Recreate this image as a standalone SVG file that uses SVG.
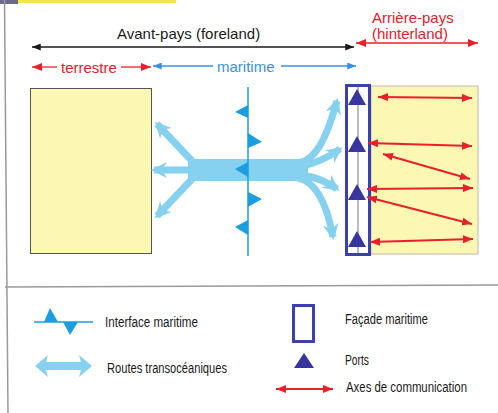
<svg xmlns="http://www.w3.org/2000/svg" width="498" height="413" viewBox="0 0 498 413">
<defs>
<style>
.t{font-family:"Liberation Sans",Arial,sans-serif}
.lg{font-size:14px;fill:#1a1a1a}
.hd{font-size:15px}
.red{stroke:#e8202a;stroke-width:2;fill:none}
.route{stroke:#86d0f0;stroke-width:7;fill:none}
.yel{fill:#fcf8b3}
.port{fill:#38359f}
.iface{fill:#1a9ee0}
</style>
<marker id="mk" viewBox="0 0 10 8" refX="10" refY="4" markerWidth="9" markerHeight="7" markerUnits="userSpaceOnUse" orient="auto-start-reverse"><path d="M0,0 L10,4 L0,8 z" fill="#1a1a1a"/></marker>
<marker id="mr" viewBox="0 0 10 8" refX="10" refY="4" markerWidth="10" markerHeight="8" markerUnits="userSpaceOnUse" orient="auto-start-reverse"><path d="M0,0 L10,4 L0,8 z" fill="#e8202a"/></marker>
<marker id="mb" viewBox="0 0 10 8" refX="10" refY="4" markerWidth="9" markerHeight="7" markerUnits="userSpaceOnUse" orient="auto-start-reverse"><path d="M0,0 L10,4 L0,8 z" fill="#3a8fe0"/></marker>
<marker id="mw" viewBox="0 0 18 18" refX="13" refY="9" markerWidth="18" markerHeight="18" markerUnits="userSpaceOnUse" orient="auto"><path d="M0,1 L16,9 L0,17 L5,9 z" fill="#86d0f0"/></marker>
</defs>
<rect width="498" height="413" fill="#fff"/>
<rect x="0" y="0" width="18" height="4" fill="#6a6a8a"/>
<rect x="18" y="0" width="158" height="3" fill="#f3e64a"/>
<line x1="4.5" y1="0" x2="8" y2="413" stroke="#9a9a9a" stroke-width="1.5"/>
<line x1="5" y1="287" x2="498" y2="285" stroke="#9a9a9a" stroke-width="1.5"/>

<g id="headers">
<text class="t hd" x="117" y="39" fill="#1a1a1a">Avant-pays (foreland)</text>
<text class="t hd" x="372" y="23" fill="#e8202a" font-size="14.5">Arrière-pays</text>
<text class="t hd" x="372" y="39" fill="#e8202a">(hinterland)</text>
<text class="t hd" x="61" y="73" fill="#e8202a">terrestre</text>
<text class="t hd" x="217" y="72" fill="#3a8fe0">maritime</text>
</g>

<g id="connectors">
<line x1="32" y1="47" x2="354" y2="47" stroke="#1a1a1a" stroke-width="1.3" marker-start="url(#mk)" marker-end="url(#mk)"/>
<line x1="356" y1="43" x2="478" y2="43" stroke="#e8202a" stroke-width="1.3" marker-start="url(#mr)" marker-end="url(#mr)"/>
<line x1="57" y1="67" x2="32" y2="67" stroke="#e8202a" stroke-width="1.3" marker-end="url(#mr)"/>
<line x1="121" y1="67" x2="151" y2="67" stroke="#e8202a" stroke-width="1.3" marker-end="url(#mr)"/>
<line x1="213" y1="66" x2="153" y2="66" stroke="#3a8fe0" stroke-width="1.3" marker-end="url(#mb)"/>
<line x1="281" y1="66" x2="356" y2="66" stroke="#3a8fe0" stroke-width="1.3" marker-end="url(#mb)"/>
</g>

<g id="foreland">
<rect x="30.5" y="88.5" width="121" height="165" class="yel" stroke="#555" stroke-width="1"/>
</g>

<g id="hinterland">
<rect x="371" y="86" width="107" height="168" class="yel" stroke="#aaa" stroke-width="0.8"/>
</g>

<g id="routes">
<rect x="188" y="159" width="120" height="22" fill="#86d0f0"/>
<path class="route" d="M194,163 L157,124" marker-end="url(#mw)"/>
<path class="route" d="M194,170 L154,170" marker-end="url(#mw)"/>
<path class="route" d="M194,177 L157,216" marker-end="url(#mw)"/>
<path class="route" d="M298,163 C318,160 328,132 337,101" marker-end="url(#mw)"/>
<path class="route" d="M302,166 Q322,162 340,149" marker-end="url(#mw)"/>
<path class="route" d="M302,175 Q322,178 337,189" marker-end="url(#mw)"/>
<path class="route" d="M298,178 C318,182 328,210 333,237" marker-end="url(#mw)"/>
</g>

<g id="interface">
<line x1="248" y1="87" x2="248" y2="256" stroke="#1a9ee0" stroke-width="1.5"/>
<polygon class="iface" points="248,105 248,118 235,112"/>
<polygon class="iface" points="248,133 262,142 248,148"/>
<polygon class="iface" points="248,162 235,169 248,177"/>
<polygon class="iface" points="248,192 262,199 248,207"/>
<polygon class="iface" points="248,220 235,227 248,235"/>
</g>

<g id="facade">
<rect x="346.5" y="85.5" width="23" height="169" fill="#fff" stroke="#3b3fb0" stroke-width="3"/>
<line x1="358" y1="87" x2="358" y2="253" stroke="#555" stroke-width="0.8"/>
<polygon class="port" points="357,89 366,105 348,105"/>
<polygon class="port" points="357,136 366,152 348,152"/>
<polygon class="port" points="357,184 366,200 348,200"/>
<polygon class="port" points="357,231 366,247 348,247"/>
</g>

<g id="axes">
<line class="red" x1="378" y1="97" x2="472" y2="98" marker-start="url(#mr)" marker-end="url(#mr)"/>
<line class="red" x1="368" y1="143" x2="472" y2="146" marker-start="url(#mr)" marker-end="url(#mr)"/>
<line class="red" x1="383" y1="154" x2="470" y2="179" marker-start="url(#mr)" marker-end="url(#mr)"/>
<line class="red" x1="367" y1="189" x2="473" y2="188" marker-start="url(#mr)" marker-end="url(#mr)"/>
<line class="red" x1="367" y1="197" x2="472" y2="224" marker-start="url(#mr)" marker-end="url(#mr)"/>
<line class="red" x1="370" y1="242" x2="473" y2="239" marker-start="url(#mr)" marker-end="url(#mr)"/>
</g>

<g id="legend">
<line x1="34" y1="322" x2="93" y2="322" stroke="#1a9ee0" stroke-width="1.5"/>
<polygon class="iface" points="44,322 50,308 58,322"/>
<polygon class="iface" points="63,322 70,335 78,322"/>
<text class="t lg" x="105" y="327" textLength="93" lengthAdjust="spacingAndGlyphs">Interface maritime</text>
<path d="M35,366 L48,355 L46,362 L81,362 L79,355 L92,366 L79,377 L81,370 L46,370 L48,377 Z" fill="#86d0f0"/>
<text class="t lg" x="107" y="373" textLength="120" lengthAdjust="spacingAndGlyphs">Routes transocéaniques</text>
<rect x="293.5" y="305.5" width="20" height="36" fill="#fff" stroke="#3b3fb0" stroke-width="3"/>
<text class="t lg" x="345" y="324" textLength="83" lengthAdjust="spacingAndGlyphs">Façade maritime</text>
<polygon class="port" points="304,353 314,368 294,368"/>
<text class="t lg" x="345" y="365" textLength="24" lengthAdjust="spacingAndGlyphs">Ports</text>
<line class="red" x1="276" y1="389" x2="333" y2="389" stroke-width="1.5" marker-start="url(#mr)" marker-end="url(#mr)"/>
<text class="t lg" x="346" y="392" textLength="121" lengthAdjust="spacingAndGlyphs">Axes de communication</text>
</g>
</svg>
